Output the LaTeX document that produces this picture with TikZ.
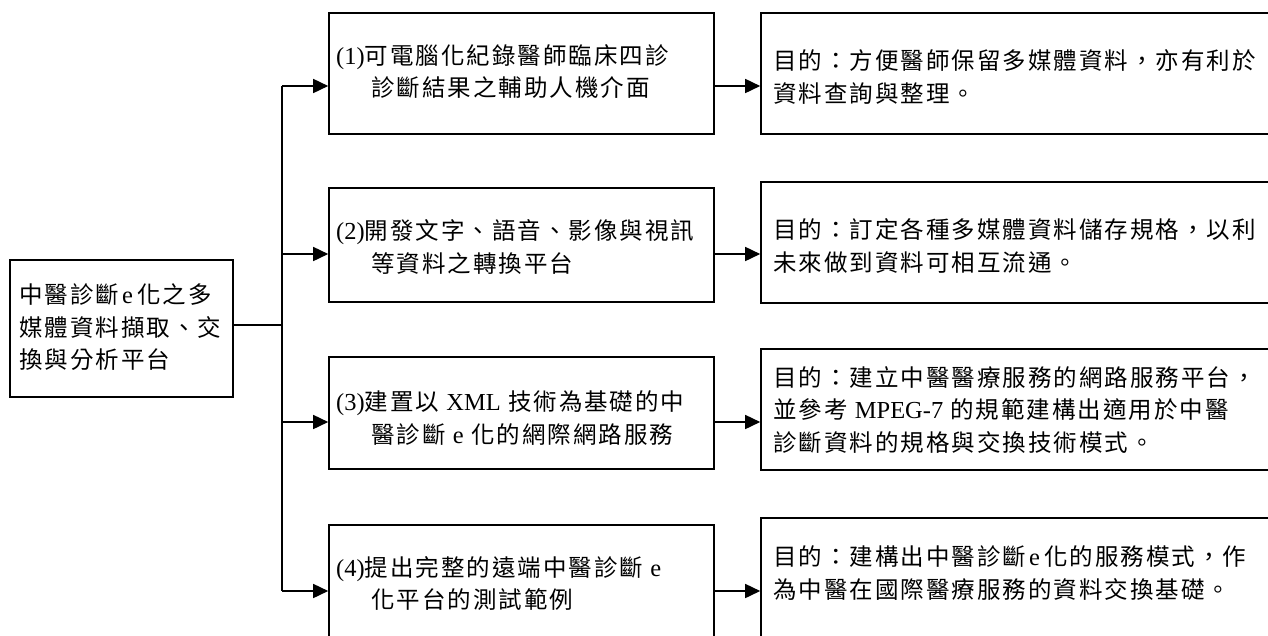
\documentclass[tikz,border=0pt]{standalone}
\usepackage{fontspec}
\setmainfont{Noto Sans CJK TC}[LetterSpace=8.5]
\newfontfamily\latfont{Liberation Serif}[Scale=1.04]
\newcommand\latn[1]{{\latfont #1}}
\newcommand\elat{\kern3pt\latn{e}\kern4pt}
\usetikzlibrary{arrows.meta}
\begin{document}
\begin{tikzpicture}[x=1pt,y=-1pt,
  frame/.style={draw, line width=1.6pt, inner sep=0pt, rectangle},
  conn/.style={line width=1.6pt},
  arr/.style={conn, -{Triangle[length=15pt,width=14pt]}},
  txt/.style={inner sep=0pt, align=left, anchor=west, font=\fontsize{23.5}{32.5}\selectfont}
]
\useasboundingbox (0,0) rectangle (1268,635);
\clip (0,0) rectangle (1268,635);
\fill[white] (0,0) rectangle (1268,635);

% boxes
\node[frame, minimum width=223pt, minimum height=137pt] (L) at (121.5,328.5) {};
\node[frame, minimum width=385pt, minimum height=121pt] (m1) at (521.5,73.5) {};
\node[frame, minimum width=385pt, minimum height=114pt] (m2) at (521.5,245) {};
\node[frame, minimum width=385pt, minimum height=112pt] (m3) at (521.5,413) {};
\node[frame, minimum width=385pt, minimum height=120pt] (m4) at (521.5,585) {};
\node[frame, minimum width=539pt, minimum height=121pt] (r1) at (1030.5,73.5) {};
\node[frame, minimum width=539pt, minimum height=121pt] (r2) at (1030.5,242.5) {};
\node[frame, minimum width=539pt, minimum height=121pt] (r3) at (1030.5,409.5) {};
\node[frame, minimum width=539pt, minimum height=121pt] (r4) at (1030.5,578.5) {};

% texts
\node[txt] (tL) at (19,327.5) {中醫診斷\elat 化之多\\媒體資料擷取、交\\換與分析平台};
\node[txt] (tm1) at (336,71.5) {\latn{(1)}可電腦化紀錄醫師臨床四診\\\hspace*{35pt}診斷結果之輔助人機介面};
\node[txt] (tm2) at (336,247) {\latn{(2)}開發文字、語音、影像與視訊\\\hspace*{35pt}等資料之轉換平台};
\node[txt] (tm3) at (336,418) {\latn{(3)}建置以 \latn{XML} 技術為基礎的中\\\hspace*{35pt}醫診斷 \latn{e} 化的網際網路服務};
\node[txt] (tm4) at (336,583.5) {\latn{(4)}提出完整的遠端中醫診斷 \latn{e}\\\hspace*{35pt}化平台的測試範例};
\node[txt] (tr1) at (773,77) {目的：方便醫師保留多媒體資料，亦有利於\\資料查詢與整理。};
\node[txt] (tr2) at (773,246) {目的：訂定各種多媒體資料儲存規格，以利\\未來做到資料可相互流通。};
\node[txt] (tr3) at (773,410) {目的：建立中醫醫療服務的網路服務平台，\\並參考 \latn{MPEG-7} 的規範建構出適用於中醫\\診斷資料的規格與交換技術模式。};
\node[txt] (tr4) at (773,573) {目的：建構出中醫診斷\elat 化的服務模式，作\\為中醫在國際醫療服務的資料交換基礎。};

% connectors
\coordinate (j) at (282,325);
\coordinate (t1) at (282,86);
\coordinate (t2) at (282,254);
\coordinate (t3) at (282,422);
\coordinate (t4) at (282,591);
\draw[conn] (L.east |- j) -- (j);
\draw[conn] (t1) -- (t4);
\draw[arr] (t1) -- (t1 -| m1.west);
\draw[arr] (t2) -- (t2 -| m2.west);
\draw[arr] (t3) -- (t3 -| m3.west);
\draw[arr] (t4) -- (t4 -| m4.west);
\draw[arr] (m1.east |- t1) -- (r1.west |- t1);
\draw[arr] (m2.east |- t2) -- (r2.west |- t2);
\draw[arr] (m3.east |- t3) -- (r3.west |- t3);
\draw[arr] (m4.east |- t4) -- (r4.west |- t4);
\end{tikzpicture}
\end{document}
